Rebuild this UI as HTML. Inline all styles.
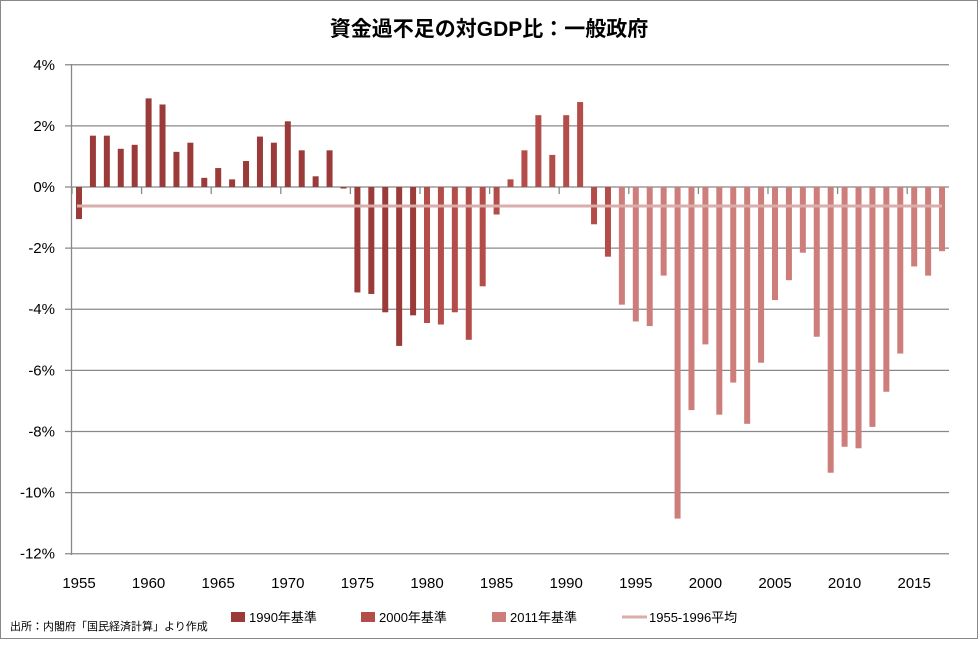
<!DOCTYPE html>
<html><head><meta charset="utf-8"><style>
body{margin:0;background:#fff}
svg text{font-family:"Liberation Sans","Noto Sans CJK JP",sans-serif}
</style></head><body>
<svg width="979" height="640" viewBox="0 0 979 640" xmlns="http://www.w3.org/2000/svg">
<rect x="0.5" y="0.5" width="977" height="638" fill="#fff" stroke="#888"/>
<text x="489" y="36" text-anchor="middle" font-size="21" font-weight="bold" fill="#000">資金過不足の対GDP比：一般政府</text>
<g id="grid" stroke="#888" stroke-width="1.3"></g>
<g id="bars"></g>
<g id="labels" font-size="15" fill="#000"></g>
<line x1="77" y1="206" x2="942" y2="206" stroke="#d9aeab" stroke-width="3"/>
<text x="10" y="630" font-size="11" fill="#000">出所：内閣府「国民経済計算」より作成</text>
<rect x="231" y="612" width="14" height="10" fill="#9a3b3a"/><text x="249" y="622" font-size="13">1990年基準</text>
<rect x="361" y="612" width="14" height="10" fill="#b44c49"/><text x="379" y="622" font-size="13">2000年基準</text>
<rect x="492" y="612" width="14" height="10" fill="#cd7e7b"/><text x="510" y="622" font-size="13">2011年基準</text>
<line x1="622" y1="617" x2="647" y2="617" stroke="#d9aeab" stroke-width="3"/><text x="649" y="622" font-size="13">1955-1996平均</text>
<script>
var vals=[-1.05,1.68,1.68,1.25,1.38,2.9,2.7,1.15,1.45,0.3,0.62,0.25,0.85,1.65,1.45,2.15,1.2,0.35,1.2,-0.05,-3.45,-3.5,-4.1,-5.2,-4.2,-4.45,-4.5,-4.1,-5.0,-3.25,-0.9,0.25,1.2,2.35,1.05,2.35,2.78,-1.22,-2.28,-3.85,-4.4,-4.55,-2.9,-10.85,-7.3,-5.15,-7.45,-6.4,-7.75,-5.75,-3.7,-3.05,-2.15,-4.9,-9.35,-8.5,-8.55,-7.85,-6.7,-5.45,-2.6,-2.9,-2.1];
var ns="http://www.w3.org/2000/svg";
function Y(v){return 187-v*30.56;}
var g=document.getElementById('grid'),b=document.getElementById('bars'),l=document.getElementById('labels');
for(var v=4;v>=-12;v-=2){var ln=document.createElementNS(ns,'line');ln.setAttribute('x1',65);ln.setAttribute('x2',949);ln.setAttribute('y1',Y(v));ln.setAttribute('y2',Y(v));g.appendChild(ln);
var t=document.createElementNS(ns,'text');t.setAttribute('x',55);t.setAttribute('y',Y(v)+5);t.setAttribute('text-anchor','end');t.textContent=v+'%';l.appendChild(t);}
var ax=document.createElementNS(ns,'line');ax.setAttribute('x1',71.5);ax.setAttribute('x2',71.5);ax.setAttribute('y1',64);ax.setAttribute('y2',555);g.appendChild(ax);
for(var i=0;i<63;i++){var c=79+i*13.92;var yr=1955+i;var v=vals[i];
var col=yr<=1979?'#9a3b3a':(yr<=1993?'#b44c49':'#cd7e7b');
var r=document.createElementNS(ns,'rect');r.setAttribute('x',c-3);r.setAttribute('width',6);
r.setAttribute('y',Math.min(Y(v),187));r.setAttribute('height',Math.abs(Y(v)-187));r.setAttribute('fill',col);b.appendChild(r);
if(yr%5==0){var tk=document.createElementNS(ns,'line');tk.setAttribute('x1',c-7);tk.setAttribute('x2',c-7);tk.setAttribute('y1',187);tk.setAttribute('y2',194);g.appendChild(tk);
var t=document.createElementNS(ns,'text');t.setAttribute('x',c);t.setAttribute('y',588);t.setAttribute('text-anchor','middle');t.textContent=yr;l.appendChild(t);}}
</script>
</svg>
</body></html>
